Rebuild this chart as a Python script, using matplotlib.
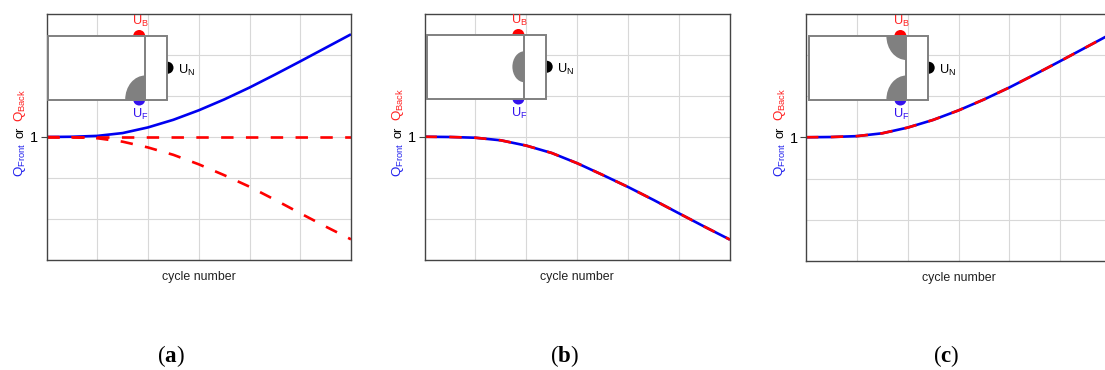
#!/usr/bin/env python3
import matplotlib
matplotlib.use('Agg')
import matplotlib.pyplot as plt
from matplotlib.patches import Circle, Ellipse, Rectangle

plt.rcParams['font.family'] = ['Liberation Sans', 'DejaVu Sans']
plt.rcParams['mathtext.fontset'] = 'custom'
plt.rcParams['mathtext.rm'] = 'Liberation Sans'
plt.rcParams['mathtext.bf'] = 'Liberation Serif:bold'
plt.rcParams['mathtext.default'] = 'rm'

W, H = 1105, 370

# Values (cycle number has no scale, so 0-6 is one unit per grid cell)
cycles = [0, 0.5, 1, 1.5, 2, 2.5, 3, 3.5, 4, 4.5, 5, 5.5, 6]
q_rising = [1.0, 1.002, 1.009, 1.032, 1.078, 1.14, 1.217, 1.305, 1.402, 1.507, 1.615, 1.725, 1.835]
q_falling_a = [1.0, 0.998, 0.99, 0.962, 0.915, 0.855, 0.778, 0.69, 0.596, 0.49, 0.38, 0.272, 0.168]
q_falling_b = [1.0, 0.998, 0.992, 0.971, 0.928, 0.868, 0.785, 0.69, 0.592, 0.487, 0.378, 0.27, 0.165]
q_flat = [1.0] * len(cycles)

BLUE = '#0000f0'
RED = '#ff0000'
GRAY = '#808080'
LW = 1.9
DASHES = (0, (4.7, 4.7))


def px_axes(fig, left, right, top, bottom):
    """Adds an axes placed by its pixel edges."""
    return fig.add_axes([left / W, 1 - bottom / H, (right - left) / W, (bottom - top) / H])


def setup_panel(ax):
    ax.set_xlim(0, 6)
    ax.set_ylim(0, 2)
    ax.set_xticks([1, 2, 3, 4, 5])
    ax.set_yticks([1], labels=['1'])
    ax.set_yticks([1 / 3, 2 / 3, 4 / 3, 5 / 3], minor=True)
    ax.grid(True, which='both', color='#d8d8d8', lw=0.8)
    ax.set_axisbelow(True)
    ax.tick_params(bottom=False, labelbottom=False)
    ax.tick_params(which='minor', left=False)
    ax.tick_params(axis='y', which='major', length=4, width=0.8, labelsize=10.5, pad=2, color='#444444')
    for s in ax.spines.values():
        s.set_color('#444444')
        s.set_linewidth(1.0)
    ax.set_xlabel('cycle number', fontsize=8.9, color='#222222', labelpad=8)


def draw_labels(over, left, top):
    """Rotated y label pieces, relative to the panel corner."""
    x = left - 26
    over.text(x, top + 146, r'$\mathrm{Q_{Front}}$', color='#2222ee', fontsize=9.6,
              rotation=90, ha='center', va='center')
    over.text(x, top + 118.5, 'or', color='black', fontsize=9.2,
              rotation=90, ha='center', va='center')
    over.text(x, top + 91, r'$\mathrm{Q_{Back}}$', color='#ff2222', fontsize=9.6,
              rotation=90, ha='center', va='center')


def draw_cell(over, x0, top, kind):
    """Cell sketch: box, contact dots and gray active regions."""
    x1 = x0 + 119
    xv = x0 + 97.7
    y0 = top
    y1 = top + 63.5
    xd = xv - 6
    over.add_patch(Circle((xd, y0), 6, fc=RED, ec='none'))
    over.add_patch(Circle((xd, y1), 6, fc='#3311ee', ec='none'))
    over.add_patch(Circle((x1 + 1, (y0 + y1) / 2), 6, fc='black', ec='none'))
    over.add_patch(Rectangle((x0, y0), x1 - x0, y1 - y0, fc='white', ec='none'))

    shapes = []
    if kind in ('front', 'both'):
        shapes.append(Ellipse((xv, y1), 40, 48, fc=GRAY, ec='none'))
    if kind in ('back', 'both'):
        shapes.append(Ellipse((xv, y0), 40, 48, fc=GRAY, ec='none'))
    if kind == 'middle':
        shapes.append(Ellipse((xv, (y0 + y1) / 2), 24, 31, fc=GRAY, ec='none'))
    # gray regions only show left of the divider, inside the box
    clip = Rectangle((x0, y0), xv - x0, y1 - y0, transform=over.transData)
    for shape in shapes:
        over.add_patch(shape)
        shape.set_clip_path(clip)

    over.add_patch(Rectangle((x0, y0), x1 - x0, y1 - y0, fc='none', ec=GRAY, lw=1.4))
    over.plot([xv, xv], [y0, y1], color=GRAY, lw=1.4)
    over.text(xd + 1, y0 - 14.5, r'$\mathrm{U_B}$', color='#ff2222', fontsize=9.2, ha='center', va='center')
    over.text(xd + 1, y1 + 15, r'$\mathrm{U_F}$', color='#3311ee', fontsize=9.2, ha='center', va='center')
    over.text(x1 + 20, (y0 + y1) / 2 + 3, r'$\mathrm{U_N}$', color='black', fontsize=9.2, ha='center', va='center')


fig = plt.figure(figsize=(W / 100, H / 100), dpi=100, facecolor='white')

ax_a = px_axes(fig, 46.5, 351, 14, 260)
ax_b = px_axes(fig, 424.5, 730, 13.5, 260)
ax_c = px_axes(fig, 806, 1111, 13.5, 261)

setup_panel(ax_a)
ax_a.plot(cycles, q_rising, color=BLUE, lw=LW, solid_capstyle='butt')
ax_a.plot(cycles, q_flat, color=RED, lw=LW, ls=DASHES, dash_capstyle='butt')
ax_a.plot(cycles, q_falling_a, color=RED, lw=LW, ls=DASHES, dash_capstyle='butt')

setup_panel(ax_b)
ax_b.plot(cycles, q_falling_b, color=BLUE, lw=LW, solid_capstyle='butt')
ax_b.plot(cycles, q_falling_b, color=RED, lw=LW, ls=DASHES, dash_capstyle='butt')

setup_panel(ax_c)
ax_c.plot(cycles, q_rising, color=BLUE, lw=LW, solid_capstyle='butt')
ax_c.plot(cycles, q_rising, color=RED, lw=LW, ls=DASHES, dash_capstyle='butt')

# overlay in pixel coordinates for the sketches and captions
over = fig.add_axes([0, 0, 1, 1], facecolor='none')
over.set_xlim(0, W)
over.set_ylim(H, 0)
over.axis('off')

draw_labels(over, 46.5, 14)
draw_labels(over, 424.5, 13.5)
draw_labels(over, 806, 13.5)
draw_cell(over, 47.5, 36, 'front')
draw_cell(over, 426.7, 35, 'middle')
draw_cell(over, 808.7, 36, 'both')

for x, letter in [(171, 'a'), (564, 'b'), (946, 'c')]:
    over.text(x, 356, '($\\mathbf{%s}$)' % letter, family='Liberation Serif', fontsize=16.5,
              ha='center', va='center', color='black')

fig.savefig('out.png', dpi=100)
